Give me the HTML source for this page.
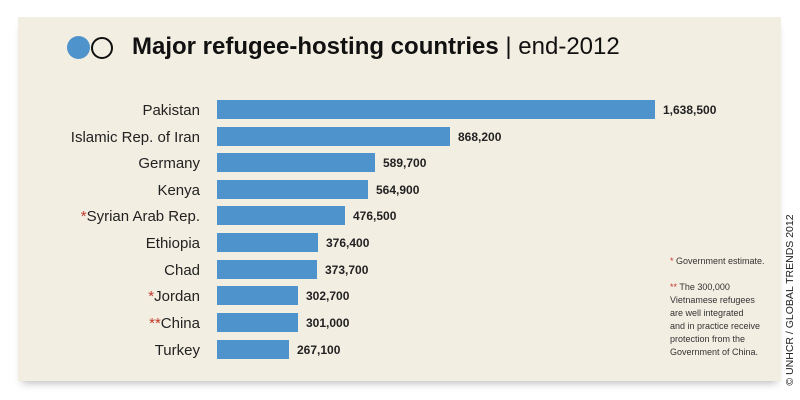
<!DOCTYPE html>
<html><head><style>
body{margin:0;width:800px;height:400px;background:#fff;position:relative;overflow:hidden;font-family:"Liberation Sans",sans-serif}
.panel{position:absolute;left:18px;top:17px;width:763px;height:364px;background:#f3eee2;box-shadow:0 6px 8px -4px #bbb}
.t{position:absolute;white-space:nowrap}
.lab{position:absolute;right:600px;font-size:15px;color:#222;text-align:right;white-space:nowrap;margin-top:2px}
.bar{position:absolute;left:217px;height:19px;background:#4f93cc}
.val{position:absolute;font-size:12px;font-weight:bold;color:#222}
.r{color:#c0392b}
.note{position:absolute;left:670px;font-size:9px;color:#333;line-height:13px}
</style></head><body>
<div class="panel"></div>
<div style="position:absolute;left:67px;top:36px;width:23px;height:23px;border-radius:50%;background:#4f93cc"></div>
<div style="position:absolute;left:91px;top:37px;width:18px;height:18px;border-radius:50%;border:2.5px solid #111"></div>
<div class="t" style="left:132px;top:33px;font-size:24px;color:#111"><b>Major refugee-hosting countries</b> <span style="font-weight:normal">| end-2012</span></div>

<div class="lab" style="top:100px">Pakistan</div><div class="bar" style="top:100px;width:438px"></div><div class="val" style="left:663px;top:103px">1,638,500</div>
<div class="lab" style="top:127px">Islamic Rep. of Iran</div><div class="bar" style="top:127px;width:233px"></div><div class="val" style="left:458px;top:130px">868,200</div>
<div class="lab" style="top:153px">Germany</div><div class="bar" style="top:153px;width:158px"></div><div class="val" style="left:383px;top:156px">589,700</div>
<div class="lab" style="top:180px">Kenya</div><div class="bar" style="top:180px;width:151px"></div><div class="val" style="left:376px;top:183px">564,900</div>
<div class="lab" style="top:206px"><span class="r">*</span>Syrian Arab Rep.</div><div class="bar" style="top:206px;width:128px"></div><div class="val" style="left:353px;top:209px">476,500</div>
<div class="lab" style="top:233px">Ethiopia</div><div class="bar" style="top:233px;width:101px"></div><div class="val" style="left:326px;top:236px">376,400</div>
<div class="lab" style="top:260px">Chad</div><div class="bar" style="top:260px;width:100px"></div><div class="val" style="left:325px;top:263px">373,700</div>
<div class="lab" style="top:286px"><span class="r">*</span>Jordan</div><div class="bar" style="top:286px;width:81px"></div><div class="val" style="left:306px;top:289px">302,700</div>
<div class="lab" style="top:313px"><span class="r">**</span>China</div><div class="bar" style="top:313px;width:81px"></div><div class="val" style="left:306px;top:316px">301,000</div>
<div class="lab" style="top:340px">Turkey</div><div class="bar" style="top:340px;width:72px"></div><div class="val" style="left:297px;top:343px">267,100</div>

<div class="note" style="top:255px"><span class="r">*</span> Government estimate.</div>
<div class="note" style="top:281px"><span class="r">**</span> The 300,000<br>Vietnamese refugees<br>are well integrated<br>and in practice receive<br>protection from the<br>Government of China.</div>
<div class="t" style="left:790px;top:300px;font-size:10.5px;color:#222;transform:translate(-50%,-50%) rotate(-90deg)">© UNHCR / GLOBAL TRENDS 2012</div>
</body></html>
